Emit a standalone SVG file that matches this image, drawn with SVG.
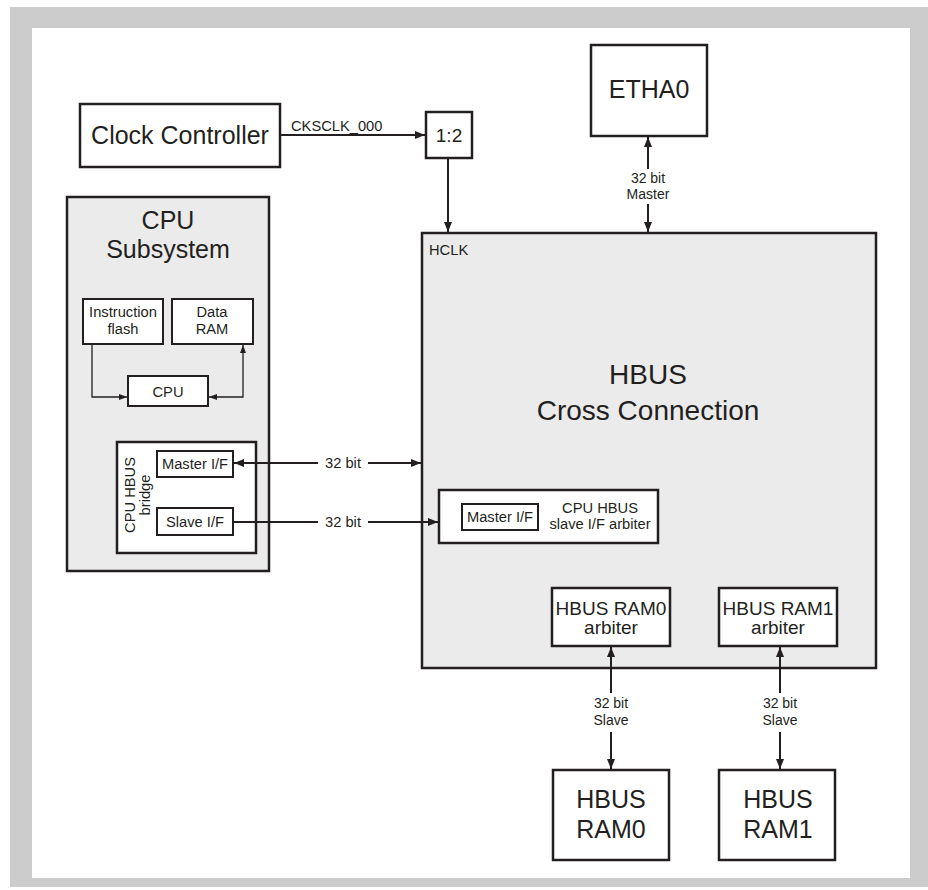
<svg xmlns="http://www.w3.org/2000/svg" width="928" height="890" viewBox="0 0 928 890">
<style>
.box{fill:#fff;stroke:#231f20;stroke-width:2.5}
.gbox{fill:#ebebeb;stroke:#231f20;stroke-width:2.5}
.sbox{fill:#fff;stroke:#231f20;stroke-width:2}
.ln{fill:none;stroke:#231f20;stroke-width:2}
.ln1{fill:none;stroke:#231f20;stroke-width:1.3}
text{font-family:"Liberation Sans",Arial,sans-serif;fill:#231f20}
.L{font-size:25px;text-anchor:middle}
.XL{font-size:28px;text-anchor:middle}
.M{font-size:19px;text-anchor:middle}
.S{font-size:14.7px}
.Sc{font-size:14.7px;text-anchor:middle}
.Sn{font-size:14px;text-anchor:middle}
</style>
<defs>
<marker id="ah" viewBox="0 0 10 8" refX="10" refY="4" markerWidth="10" markerHeight="8" markerUnits="userSpaceOnUse" orient="auto-start-reverse"><path d="M0,0 L10,4 L0,8 z" fill="#231f20"/></marker>
<marker id="as" viewBox="0 0 8 6" refX="8" refY="3" markerWidth="8" markerHeight="6" markerUnits="userSpaceOnUse" orient="auto-start-reverse"><path d="M0,0 L8,3 L0,6 z" fill="#231f20"/></marker>
</defs>
<rect x="10" y="7" width="918" height="880" fill="#cccccc"/>
<rect x="32" y="28" width="878" height="850" fill="#ffffff"/>

<g id="clock-controller"><rect class="box" x="80" y="104" width="200" height="63"/><text class="L" x="180" y="144">Clock Controller</text></g>
<g id="divider"><rect class="box" x="426" y="112" width="46" height="46"/><text class="M" x="449" y="142">1:2</text></g>
<g id="etha0"><rect class="box" x="591" y="45" width="116" height="91"/><text class="L" x="649" y="98">ETHA0</text></g>

<g id="cpu-subsystem">
<rect class="gbox" x="67" y="197" width="202" height="374"/>
<text class="L" x="168" y="229">CPU</text>
<text class="L" x="168" y="258">Subsystem</text>
</g>
<g id="instruction-flash"><rect class="sbox" x="83" y="299" width="80" height="45"/><text class="Sc" x="123" y="317">Instruction</text><text class="Sc" x="123" y="334">flash</text></g>
<g id="data-ram"><rect class="sbox" x="172" y="299" width="81" height="45"/><text class="Sc" x="212" y="317">Data</text><text class="Sc" x="212" y="334">RAM</text></g>
<g id="cpu"><rect class="sbox" x="128" y="376" width="80" height="30"/><text class="Sc" x="168" y="397">CPU</text></g>
<g id="cpu-hbus-bridge">
<rect class="box" x="117" y="442" width="139" height="111"/>
<text class="Sc" font-size="15px" x="135" y="495" transform="rotate(-90 135 495)">CPU HBUS</text>
<text class="Sc" font-size="15px" x="150" y="495" transform="rotate(-90 150 495)">bridge</text>
</g>
<g id="bridge-master-if"><rect class="sbox" x="157" y="451" width="76" height="26"/><text class="Sc" x="195" y="469">Master I/F</text></g>
<g id="bridge-slave-if"><rect class="sbox" x="157" y="508" width="76" height="27"/><text class="Sc" x="195" y="527">Slave I/F</text></g>

<g id="hbus-cross-connection">
<rect class="gbox" x="422" y="233" width="454" height="435"/>
<text class="S" x="429" y="255">HCLK</text>
<text class="XL" x="648" y="384">HBUS</text>
<text class="XL" x="648" y="420">Cross Connection</text>
</g>
<g id="cpu-hbus-slave-arbiter">
<rect class="box" x="439" y="490" width="219" height="53"/>
<text class="Sc" x="600" y="513">CPU HBUS</text>
<text class="Sc" x="600" y="529">slave I/F arbiter</text>
</g>
<g id="arbiter-master-if"><rect class="sbox" x="462" y="504" width="76" height="26"/><text class="Sc" x="500" y="522">Master I/F</text></g>
<g id="ram0-arbiter"><rect class="box" x="552" y="588" width="118" height="58"/><text class="M" x="611" y="615">HBUS RAM0</text><text class="M" x="611" y="634">arbiter</text></g>
<g id="ram1-arbiter"><rect class="box" x="719" y="588" width="118" height="58"/><text class="M" x="778" y="615">HBUS RAM1</text><text class="M" x="778" y="634">arbiter</text></g>
<g id="hbus-ram0"><rect class="box" x="553" y="770" width="116" height="90"/><text class="L" x="611" y="808">HBUS</text><text class="L" x="611" y="838">RAM0</text></g>
<g id="hbus-ram1"><rect class="box" x="719" y="770" width="116" height="90"/><text class="L" x="778" y="808">HBUS</text><text class="L" x="778" y="838">RAM1</text></g>

<g id="connectors">
<path class="ln" d="M280,135 H425" marker-end="url(#ah)"/>
<text class="S" x="291" y="131">CKSCLK_000</text>
<path class="ln" d="M448,158 V232" marker-end="url(#ah)"/>
<path class="ln" d="M648,169 V137" marker-end="url(#ah)"/>
<path class="ln" d="M648,204 V232" marker-end="url(#ah)"/>
<text class="Sn" x="648" y="183">32 bit</text>
<text class="Sn" x="648" y="199">Master</text>
<path class="ln" d="M318,463 H234" marker-end="url(#ah)"/>
<path class="ln" d="M368,463 H421" marker-end="url(#ah)"/>
<text class="Sc" x="343" y="468">32 bit</text>
<path class="ln" d="M233,522 H318"/>
<path class="ln" d="M368,522 H438" marker-end="url(#ah)"/>
<text class="Sc" x="343" y="527">32 bit</text>
<path class="ln" d="M611,693 V647" marker-end="url(#ah)"/>
<path class="ln" d="M611,732 V769" marker-end="url(#ah)"/>
<text class="Sn" x="611" y="708">32 bit</text>
<text class="Sn" x="611" y="725">Slave</text>
<path class="ln" d="M780,693 V647" marker-end="url(#ah)"/>
<path class="ln" d="M780,732 V769" marker-end="url(#ah)"/>
<text class="Sn" x="780" y="708">32 bit</text>
<text class="Sn" x="780" y="725">Slave</text>
<path class="ln1" d="M92,344 V397 H127" marker-end="url(#as)"/>
<path class="ln1" d="M209,397 H243 V345" marker-start="url(#as)" marker-end="url(#as)"/>
</g>
</svg>
